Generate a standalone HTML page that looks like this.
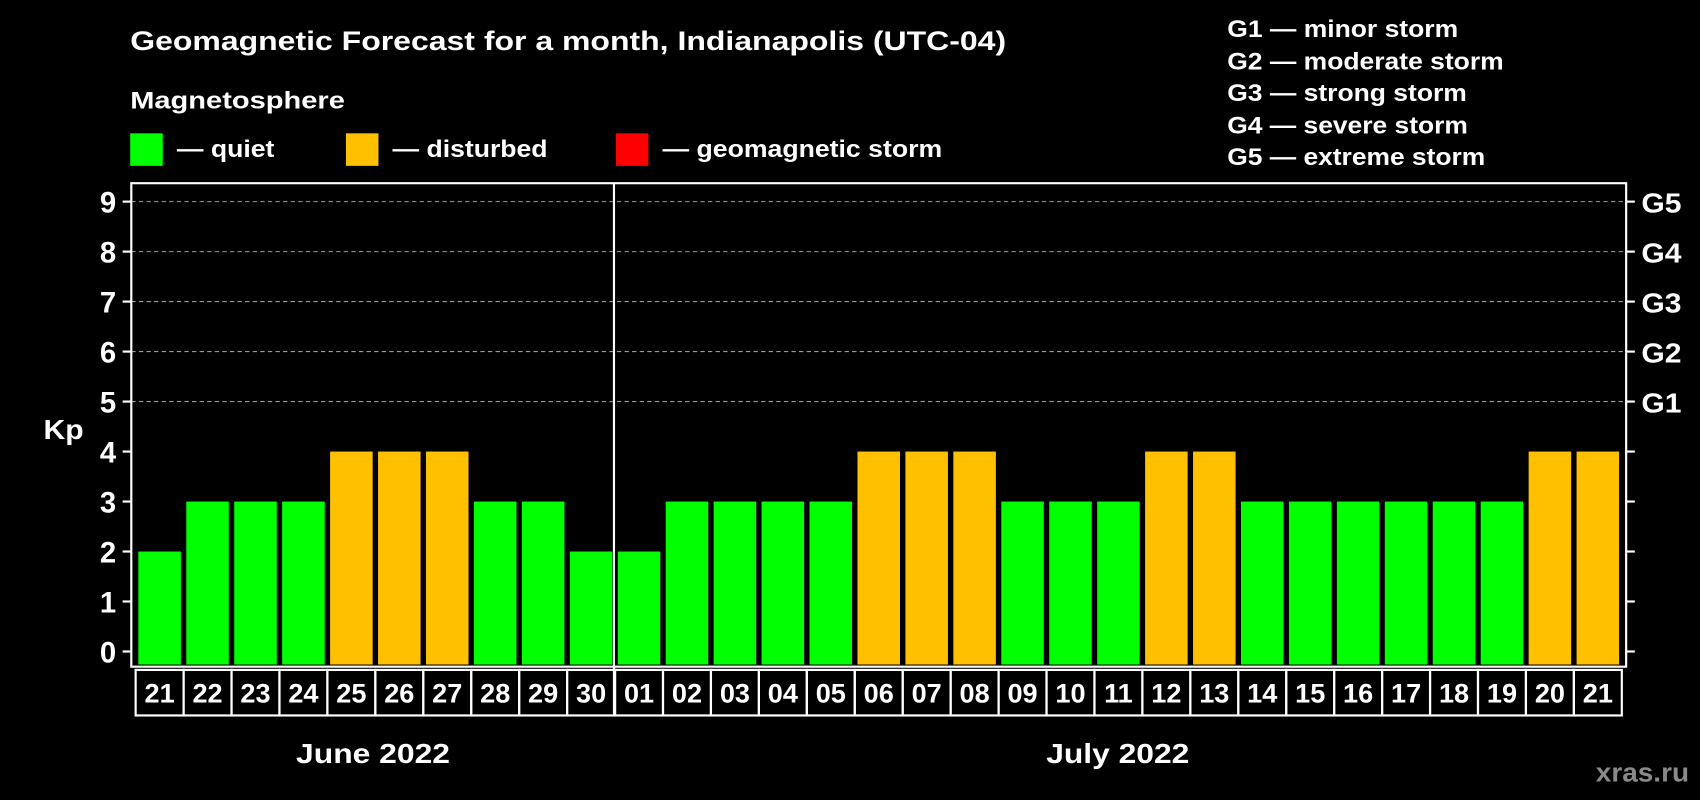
<!DOCTYPE html>
<html><head><meta charset="utf-8"><style>
html,body{margin:0;padding:0;background:#000;}
svg{display:block;font-family:"Liberation Sans",Arial,sans-serif;font-weight:bold;}
</style></head><body>
<svg id="chart" width="1700" height="800" viewBox="0 0 1568 738" xmlns="http://www.w3.org/2000/svg">
<rect width="1568" height="738" fill="#000"/>
<text x="120" y="46" fill="#fff" font-size="25" textLength="808" lengthAdjust="spacingAndGlyphs">Geomagnetic Forecast for a month, Indianapolis (UTC-04)</text>
<text x="120" y="100" fill="#fff" font-size="22" textLength="198" lengthAdjust="spacingAndGlyphs">Magnetosphere</text>
<g><rect x="120" y="123" width="30" height="30" fill="#00ff00"/><text x="163" y="145" fill="#fff" font-size="22" textLength="90" lengthAdjust="spacingAndGlyphs">— quiet</text></g>
<g><rect x="319" y="123" width="30" height="30" fill="#ffc000"/><text x="362" y="145" fill="#fff" font-size="22" textLength="143" lengthAdjust="spacingAndGlyphs">— disturbed</text></g>
<g><rect x="568" y="123" width="30" height="30" fill="#ff0000"/><text x="611" y="145" fill="#fff" font-size="22" textLength="258" lengthAdjust="spacingAndGlyphs">— geomagnetic storm</text></g>
<g fill="#fff" font-size="22" lengthAdjust="spacingAndGlyphs">
<text x="1132" y="34" textLength="213" lengthAdjust="spacingAndGlyphs">G1 — minor storm</text>
<text x="1132" y="64" textLength="255" lengthAdjust="spacingAndGlyphs">G2 — moderate storm</text>
<text x="1132" y="93" textLength="221" lengthAdjust="spacingAndGlyphs">G3 — strong storm</text>
<text x="1132" y="123" textLength="222" lengthAdjust="spacingAndGlyphs">G4 — severe storm</text>
<text x="1132" y="152" textLength="238" lengthAdjust="spacingAndGlyphs">G5 — extreme storm</text>
</g>
<text x="40" y="405" fill="#fff" font-size="26" textLength="37" lengthAdjust="spacingAndGlyphs">Kp</text>
<g id="grid"></g>
<g id="bars"></g>
<rect x="121" y="169" width="1379" height="446" fill="none" stroke="#fff" stroke-width="2"/>
<g id="days"></g>
<text x="273" y="704" fill="#fff" font-size="26" textLength="142" lengthAdjust="spacingAndGlyphs">June 2022</text>
<text x="965" y="704" fill="#fff" font-size="26" textLength="132" lengthAdjust="spacingAndGlyphs">July 2022</text>
<text x="1472" y="721" fill="#8a8a8a" font-size="25" textLength="86" lengthAdjust="spacingAndGlyphs">xras.ru</text>
</svg>
<script>
const dayLabels = ["21","22","23","24","25","26","27","28","29","30","01","02","03","04","05","06","07","08","09","10","11","12","13","14","15","16","17","18","19","20","21"];
const kpValues = [2,3,3,3,4,4,4,3,3,2,2,3,3,3,3,4,4,4,3,3,3,4,4,3,3,3,3,3,3,4,4];
const yTicks = [0,1,2,3,4,5,6,7,8,9];
const gLabels = ["G1","G2","G3","G4","G5"];
const NS="http://www.w3.org/2000/svg";
const x0=125, x1=1496, y0=601, yPer=(601-186)/9;
const n=dayLabels.length, bw=(x1-x0)/n;
function y(v){return y0-v*yPer;}
function xL(i){return x0+i*bw;}
function mk(t,a,p){const e=document.createElementNS(NS,t);for(const k in a)e.setAttribute(k,a[k]);p.appendChild(e);return e;}
const grid=document.getElementById('grid'), bars=document.getElementById('bars'), days=document.getElementById('days');
yTicks.forEach(v=>{
  const yy=y(v);
  if(v>=5){const l=mk('line',{x1:121,x2:1500,y1:yy,y2:yy,stroke:'#999','stroke-dasharray':'4,3','stroke-width':1},grid);
  
  }
  mk('line',{x1:113,x2:121,y1:yy,y2:yy,stroke:'#fff','stroke-width':2},grid);
  mk('line',{x1:1500,x2:1508,y1:yy,y2:yy,stroke:'#fff','stroke-width':2},grid);
  const t=mk('text',{x:107,y:yy+10,fill:'#fff','font-size':27,'text-anchor':'end'},grid);
  t.textContent=v;
  
  
  if(v>=5){const g=mk('text',{x:1514,y:yy+10,fill:'#fff','font-size':26,textLength:37,lengthAdjust:'spacingAndGlyphs'},grid);
  g.textContent=gLabels[v-5];
  
  }
});
kpValues.forEach((v,i)=>{
  const c = v>=5?'#ff0000':(v>=4?'#ffc000':'#00ff00');
  const r=mk('rect',{x:xL(i)+2.5,y:y(v),width:bw-5,height:y0-y(v)+12,fill:c},bars);
  
  
  const b=mk('rect',{x:xL(i),y:618,width:bw,height:42,fill:'none',stroke:'#fff','stroke-width':2},days);
  
  
  const t=mk('text',{x:xL(i)+bw/2,y:648,fill:'#fff','font-size':25,'text-anchor':'middle'},days);
  t.textContent=dayLabels[i];
  
  
});
const split=dayLabels.indexOf("01");
const d=mk('line',{x1:xL(split)-1,x2:xL(split)-1,y1:169,y2:660,stroke:'#fff','stroke-width':2},days);


</script>
</body></html>
